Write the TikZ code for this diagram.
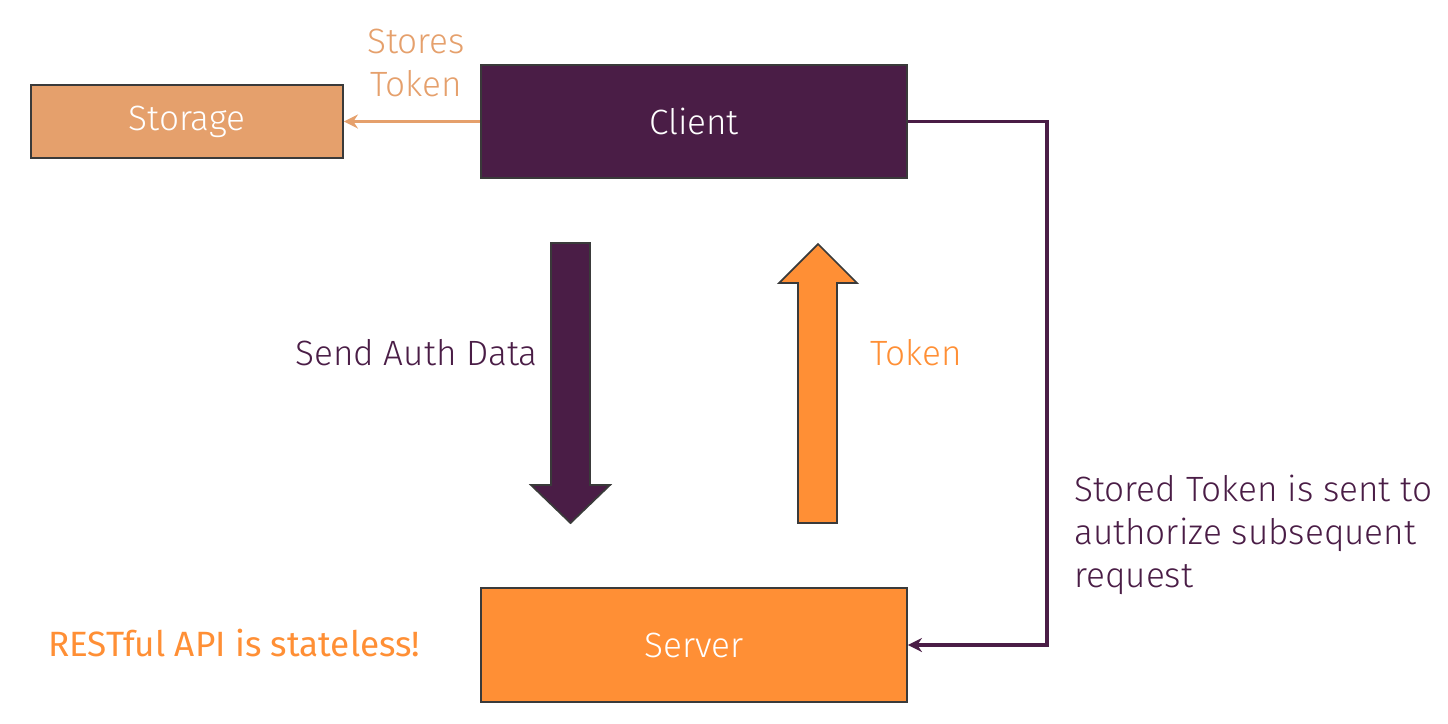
\documentclass[tikz,border=0pt]{standalone}
\usepackage{fontspec}
\setmainfont{Fira Sans Light}[BoldFont={Fira Sans}]
\usetikzlibrary{arrows.meta}
\definecolor{plum}{HTML}{4A1D46}
\definecolor{tan}{HTML}{E5A06C}
\definecolor{tangerine}{HTML}{FF8F35}
\definecolor{edge}{HTML}{3A3A3A}
\begin{document}
\begin{tikzpicture}[x=0.02cm, y=-0.02cm,
    every node/.style={font=\fontsize{20}{24.5}\selectfont},
    box/.style={draw=edge, line width=1pt, inner sep=0pt, text=white}]
            \useasboundingbox (0,0) rectangle (1448,724);

            \node[box, fill=tan, minimum width=312*0.02cm, minimum height=73*0.02cm] (storage) at (187,121.5) {Storage};
            \node[box, fill=plum, minimum width=426*0.02cm, minimum height=113*0.02cm] (client) at (694,121.5) {Client};
            \node[box, fill=tangerine, minimum width=426*0.02cm, minimum height=114*0.02cm] (server) at (694,645) {Server};

            \node[text=tan, align=center] (stores) at (416,63) {Stores\\Token};
            \node[text=plum, anchor=east] (send) at (544,353) {Send Auth Data};
            \node[text=tangerine, anchor=west] (token) at (864,353) {Token};
            \node[text=plum, align=left, anchor=north west] (note) at (1068,469) {Stored Token is sent to\\authorize subsequent\\request};
            \node[text=tangerine, anchor=west] (rest) at (42,643) {\bfseries RESTful API is stateless!};

            \draw[tan, line width=2pt, -{Stealth[length=8pt, width=8pt]}] (client.west) -- (storage.east);
            \draw[plum, line width=2pt, -{Stealth[length=8pt, width=8pt]}] (client.east) -| (1047,645) -- (server.east);

            \draw[edge, line width=1pt, fill=plum] (551,243) -- (590,243) -- (590,485) -- (610,485) -- (570.5,523) -- (531,485) -- (551,485) -- cycle;
            \draw[edge, line width=1pt, fill=tangerine] (798,523) -- (837,523) -- (837,283) -- (857,283) -- (818,244) -- (779,283) -- (798,283) -- cycle;
        \end{tikzpicture}
\end{document}
